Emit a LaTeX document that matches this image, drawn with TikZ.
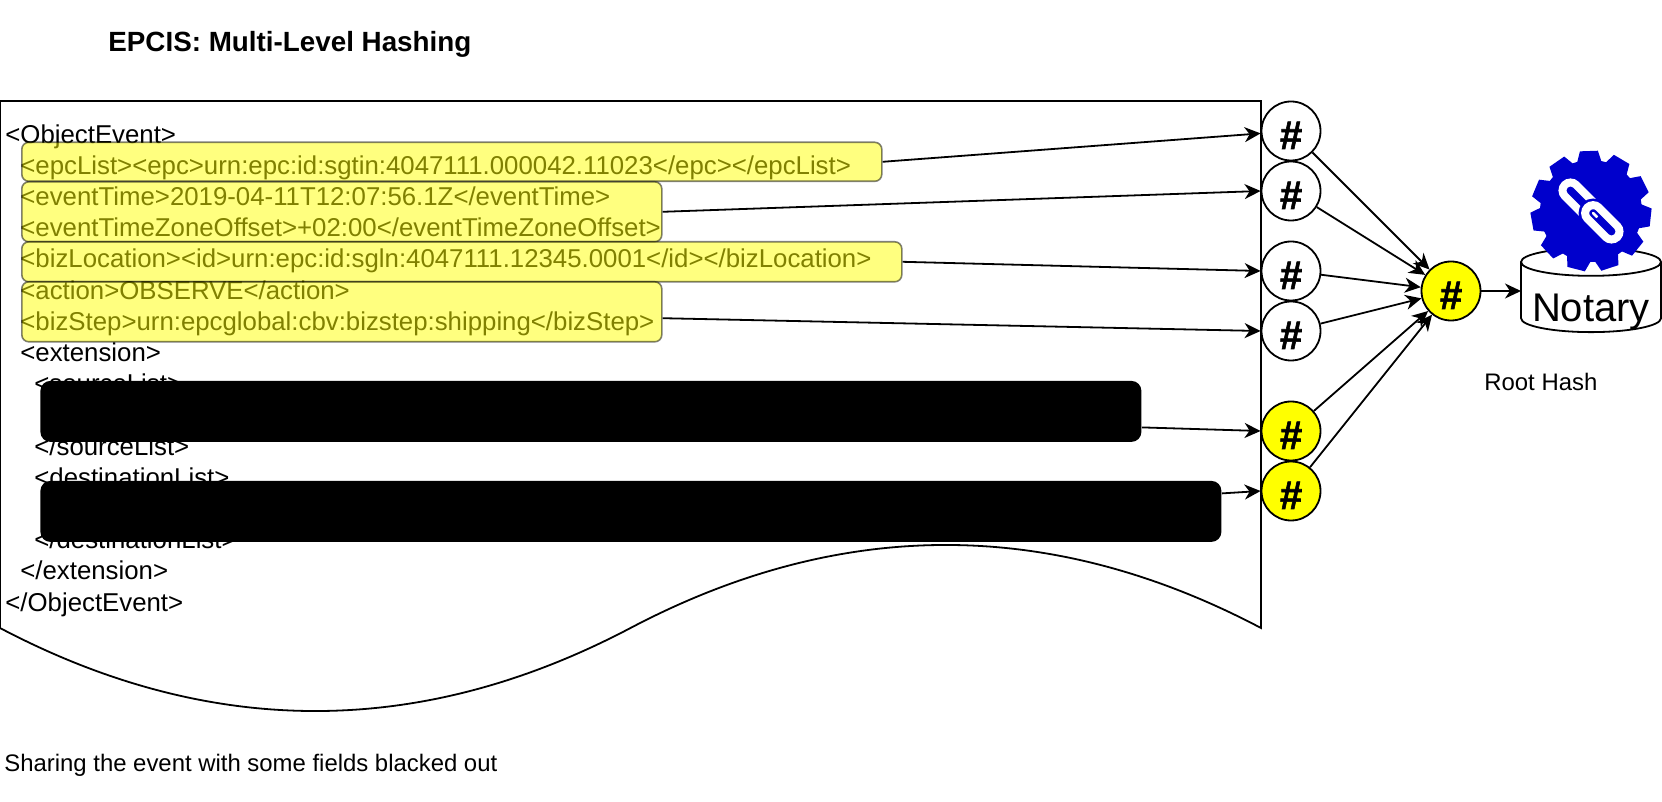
\documentclass[tikz,border=0pt]{standalone}
\usepackage{fontspec}
\setmainfont{Liberation Sans}
\usepackage{tikz}
\usetikzlibrary{arrows.meta,shapes.geometric}
\definecolor{hashyellow}{RGB}{255,255,0}
\definecolor{geardark}{RGB}{0,0,204}
\newcommand{\hashmark}{{\addfontfeature{FakeBold=1.5}\#}}

\begin{document}
\begin{tikzpicture}[
		x=0.5pt, y=-0.5pt,
		hashnode/.style = {shape=circle, draw, line width=0.9pt, inner sep=0pt,
				text height=18pt, text depth=0pt,
				minimum size=29.5pt, font=\fontsize{20}{24}\selectfont\bfseries},
		fieldbox/.style = {shape=rectangle, rounded corners=3.5pt, draw=black, fill=hashyellow,
				opacity=0.5, line width=0.8pt, anchor=north west, inner sep=0pt},
		hiddenbox/.style = {shape=rectangle, rounded corners=5pt, fill=black,
				anchor=north west, inner sep=0pt},
		plaintext/.style = {inner sep=0pt, align=left, anchor=base west},
		hashedge/.style = {draw, line width=0.9pt, -{Stealth[length=8pt,width=7.5pt,inset=2.5pt]}}
	]
	\useasboundingbox (0,0) rectangle (1662,802);

	\node[plaintext, font=\fontsize{13.9}{17}\selectfont\bfseries] (title) at (108,52) {EPCIS: Multi-Level Hashing};

	\draw[line width=0.9pt] (0,628) -- (0,101) -- (1261,101) -- (1261,628)
		.. controls (1050.8,517.3) and (840.7,517.3) .. (630.5,628)
		.. controls (420.3,738.7) and (210.2,738.7) .. (0,628);

	\node[plaintext, anchor=north west, font=\fontsize{12.9}{15.6}\selectfont] (eventtext) at (5,124) {%
		<ObjectEvent>\\
		\hspace*{7.5pt}<epcList><epc>urn:epc:id:sgtin:4047111.000042.11023</epc></epcList>\\
		\hspace*{7.5pt}<eventTime>2019-04-11T12:07:56.1Z</eventTime>\\
		\hspace*{7.5pt}<eventTimeZoneOffset>+02:00</eventTimeZoneOffset>\\
		\hspace*{7.5pt}<bizLocation><id>urn:epc:id:sgln:4047111.12345.0001</id></bizLocation>\\
		\hspace*{7.5pt}<action>OBSERVE</action>\\
		\hspace*{7.5pt}<bizStep>urn:epcglobal:cbv:bizstep:shipping</bizStep>\\
		\hspace*{7.5pt}<extension>\\
		\hspace*{14.5pt}<sourceList>\\
		~\\
		\hspace*{14.5pt}</sourceList>\\
		\hspace*{14.5pt}<destinationList>\\
		~\\
		\hspace*{14.5pt}</destinationList>\\
		\hspace*{7.5pt}</extension>\\
		</ObjectEvent>};

	\node[fieldbox, minimum width=430pt, minimum height=19.5pt] (epcbox) at (21,141.5) {};
	\node[fieldbox, minimum width=320pt, minimum height=30pt] (timebox) at (21,181) {};
	\node[fieldbox, minimum width=440pt, minimum height=20pt] (locationbox) at (21,241) {};
	\node[fieldbox, minimum width=320pt, minimum height=30pt] (stepbox) at (21,281) {};
	\node[hiddenbox, minimum width=550.5pt, minimum height=30.5pt] (sourcebox) at (40,380.5) {};
	\node[hiddenbox, minimum width=590.5pt, minimum height=30.5pt] (destbox) at (40,480.5) {};

	\node[hashnode] (hashepc) at (1291,131) {\hashmark};
	\node[hashnode] (hashtime) at (1291,191) {\hashmark};
	\node[hashnode] (hashlocation) at (1291,271) {\hashmark};
	\node[hashnode] (hashstep) at (1291,331) {\hashmark};
	\node[hashnode, fill=hashyellow] (hashsource) at (1291,431) {\hashmark};
	\node[hashnode, fill=hashyellow] (hashdest) at (1291,491) {\hashmark};
	\node[hashnode, fill=hashyellow] (roothash) at (1451,291) {\hashmark};

	\draw[hashedge] (epcbox.east) -- ([yshift=-1.2pt]hashepc.west);
	\draw[hashedge] (timebox.east) -- (hashtime.west);
	\draw[hashedge] (locationbox.east) -- (hashlocation.west);
	\draw[hashedge] ([yshift=-3.2pt]stepbox.east) -- (hashstep.west);
	\draw[hashedge] ([yshift=-8pt]sourcebox.east) -- (hashsource.west);
	\draw[hashedge] ([yshift=9pt]destbox.east) -- (hashdest.west);

	\foreach \src in {hashepc,hashtime,hashlocation,hashstep,hashsource,hashdest}
		\draw[hashedge] (\src) -- (roothash);

	\node[shape=cylinder, shape border rotate=90, draw, line width=0.9pt, inner sep=0pt,
		minimum width=70pt, minimum height=42pt, shape aspect=0.214,
		font=\fontsize{22}{26}\selectfont] (notary) at (1591,297.5) {\phantom{Notary}};
	\node[inner sep=0pt, anchor=base, font=\fontsize{20}{24}\selectfont] (notarytext) at (1591,321.5) {Notary};
	\coordinate (notaryin) at (1521,291);
	\draw[hashedge] (roothash) -- (notaryin);

	\fill[geardark] (1591,211) circle[radius=51];
	\foreach \ang in {0,...,10}
		\fill[geardark, shift={(1591,211)}, rotate=92+\ang*360/11]
			(46,-13) -- (60,-9) -- (60,9) -- (46,13) -- cycle;
	\begin{scope}[shift={(1591,211)}, rotate=-45, line width=4pt, white, rounded corners=4pt]
		\draw (-37,-8) rectangle (5,8);
		\draw[geardark, line width=6.5pt] (-5,-8) rectangle (37,8);
		\draw (-5,-8) rectangle (37,8);
	\end{scope}

	\node[plaintext, font=\fontsize{11.95}{14}\selectfont] (roottext) at (1484,391) {Root Hash};
	\node[plaintext, font=\fontsize{11.95}{14}\selectfont] (sharetext) at (4,771) {Sharing the event with some fields blacked out};
\end{tikzpicture}
\end{document}
